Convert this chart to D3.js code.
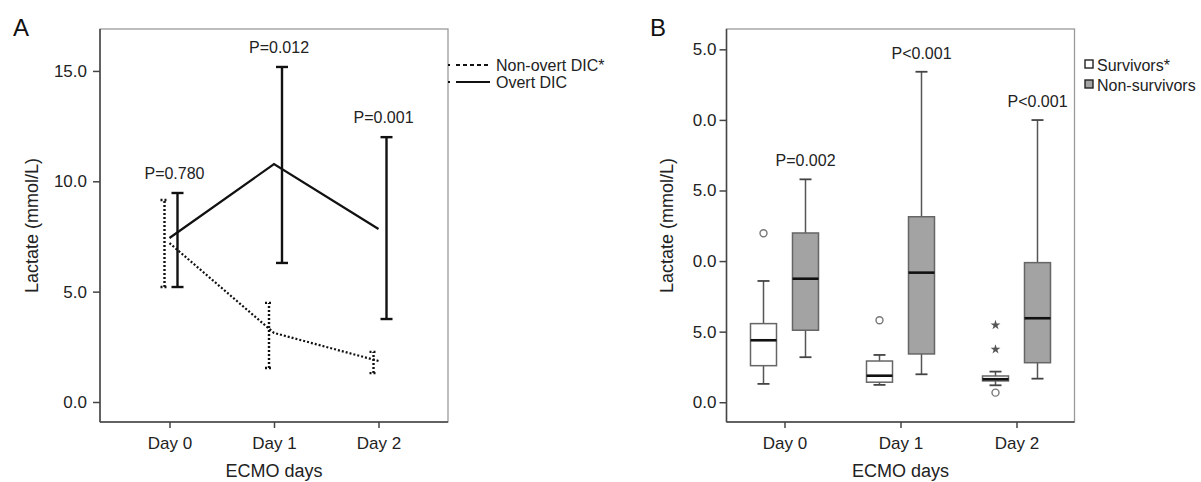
<!DOCTYPE html>
<html>
<head>
<meta charset="utf-8">
<script src="https://cdn.jsdelivr.net/npm/d3@7"></script>
<style>
body { margin: 0; background: #fff; }
svg { display: block; font-family: "Liberation Sans", Arial, sans-serif; }
</style>
</head>
<body>
<svg id="chart" width="1201" height="482"></svg>
<script>
var days = ["Day 0", "Day 1", "Day 2"];

// panel A: mean lactate with error bars, overt vs non-overt DIC
var overtMean = [7.43, 10.78, 7.84];
var overtLow = [5.21, 6.30, 3.76];
var overtHigh = [9.47, 15.18, 12.0];
var nonOvertMean = [7.2, 3.13, 1.86];
var nonOvertLow = [5.21, 1.54, 1.31];
var nonOvertHigh = [9.15, 4.49, 2.27];
var pLabelsA = ["P=0.780", "P=0.012", "P=0.001"];
var ticksA = [0, 5, 10, 15];

// panel B: boxplots, survivors vs non-survivors
var survMin = [1.30, 1.23, 1.20];
var survQ1 = [2.59, 1.42, 1.51];
var survMed = [4.39, 1.88, 1.63];
var survQ3 = [5.57, 2.92, 1.86];
var survMax = [8.59, 3.35, 2.17];
var nonSurvMin = [3.19, 1.98, 1.67];
var nonSurvQ1 = [5.10, 3.42, 2.80];
var nonSurvMed = [8.75, 9.18, 5.95];
var nonSurvQ3 = [11.99, 13.14, 9.89];
var nonSurvMax = [15.79, 23.41, 19.99];
var survOutlierDay = ["Day 0", "Day 1", "Day 2"];
var survOutlierVal = [11.97, 5.81, 0.68];
var survExtremeDay = ["Day 2", "Day 2"];
var survExtremeVal = [5.47, 3.75];
var pLabelsB = ["P=0.002", "P<0.001", "P<0.001"];
var ticksB = [0, 5, 10, 15, 20, 25];
var tickLabelsB = ["0.0", "5.0", "0.0", "5.0", "0.0", "5.0"];

var svg = d3.select("#chart");

//frame + axes shared by both panels
function drawFrame(left, right, plotTop, plotBottom)
{
    svg.append("rect")
        .attr("x", left).attr("y", plotTop)
        .attr("width", right - left).attr("height", plotBottom - plotTop)
        .attr("fill", "none").attr("stroke", "#9a9a9a").attr("stroke-width", 1.3);
    svg.append("line").attr("x1", left).attr("x2", left).attr("y1", plotTop).attr("y2", plotBottom)
        .attr("stroke", "#444").attr("stroke-width", 1.5);
    svg.append("line").attr("x1", left).attr("x2", right).attr("y1", plotBottom).attr("y2", plotBottom)
        .attr("stroke", "#444").attr("stroke-width", 1.5);
}

function styleAxis(g)
{
    g.select(".domain").remove();
    g.selectAll(".tick line").attr("stroke", "#444").attr("stroke-width", 1.5);
    g.selectAll(".tick text").attr("fill", "#222").style("font-size", "17px");
}

function axisTitles(cx, cy, yLabelX, titleX, letter)
{
    svg.append("text")
        .attr("transform", "translate(" + yLabelX + "," + cy + ") rotate(-90)")
        .attr("text-anchor", "middle").attr("dy", "0.35em")
        .style("font-size", "18px").attr("fill", "#222")
        .text("Lactate (mmol/L)");
    svg.append("text")
        .attr("x", cx).attr("y", 477)
        .attr("text-anchor", "middle")
        .style("font-size", "18px").attr("fill", "#222")
        .text("ECMO days");
    svg.append("text")
        .attr("x", titleX).attr("y", 36)
        .style("font-size", "24px").attr("fill", "#111")
        .text(letter);
}

// ---------------- panel A ----------------
var aLeft = 100, aRight = 448, plotTop = 29, plotBottom = 422;
var xA = d3.scalePoint().domain(days).range([aLeft, aRight]).padding(0.665);
var yA = d3.scaleLinear().domain([-0.906, 16.9]).range([plotBottom, plotTop]);

drawFrame(aLeft, aRight, plotTop, plotBottom);
svg.append("g").attr("transform", "translate(" + aLeft + ",0)")
    .call(d3.axisLeft(yA).tickValues(ticksA).tickFormat(d3.format(".1f")).tickSize(7).tickPadding(6))
    .call(styleAxis);
svg.append("g").attr("transform", "translate(0," + plotBottom + ")")
    .call(d3.axisBottom(xA).tickSize(6).tickPadding(9))
    .call(styleAxis);
axisTitles((aLeft + aRight) / 2, (plotTop + plotBottom) / 2, 32, 13, "A");

var lineA = d3.line().x(function(d, i) { return xA(days[i]); }).y(function(d) { return yA(d); });
svg.append("path").datum(overtMean).attr("d", lineA)
    .attr("fill", "none").attr("stroke", "#111").attr("stroke-width", 2.2);
svg.append("path").datum(nonOvertMean).attr("d", lineA)
    .attr("fill", "none").attr("stroke", "#111").attr("stroke-width", 2.2)
    .attr("stroke-dasharray", "2,2");

function errorBars(low, high, offset, capW, dash)
{
    var g = svg.append("g").attr("stroke", "#111").attr("stroke-width", 2.4).attr("fill", "none");
    days.forEach(function(d, i) {
        var cx = xA(d) + offset;
        var l = g.append("line").attr("x1", cx).attr("x2", cx).attr("y1", yA(low[i])).attr("y2", yA(high[i]));
        var c1 = g.append("line").attr("x1", cx - capW / 2).attr("x2", cx + capW / 2).attr("y1", yA(low[i])).attr("y2", yA(low[i]));
        var c2 = g.append("line").attr("x1", cx - capW / 2).attr("x2", cx + capW / 2).attr("y1", yA(high[i])).attr("y2", yA(high[i]));
        if(dash) { l.attr("stroke-dasharray", dash); c1.attr("stroke-dasharray", dash); c2.attr("stroke-dasharray", dash); }
    });
}
errorBars(nonOvertLow, nonOvertHigh, -5, 8, "2,2");
errorBars(overtLow, overtHigh, 8, 12, null);

svg.selectAll(".pA").data(pLabelsA).enter().append("text")
    .attr("x", function(d, i) { return xA(days[i]) + 5; })
    .attr("y", function(d, i) { return yA(Math.max(overtHigh[i], nonOvertHigh[i])) - 14; })
    .attr("text-anchor", "middle").style("font-size", "16px").attr("fill", "#222")
    .text(function(d) { return d; });

// legend A
var legA = [{label: "Non-overt DIC*", dash: "4,3", y: 65}, {label: "Overt DIC", dash: null, y: 82}];
legA.forEach(function(d) {
    var ln = svg.append("line").attr("x1", 456).attr("x2", 490).attr("y1", d.y).attr("y2", d.y)
        .attr("stroke", "#111").attr("stroke-width", 2.2);
    if(d.dash) ln.attr("stroke-dasharray", d.dash);
    svg.append("rect").attr("x", 448).attr("y", d.y - 1).attr("width", 2).attr("height", 2).attr("fill", "#111");
    svg.append("text").attr("x", 496).attr("y", d.y + 6)
        .style("font-size", "16px").attr("fill", "#222").text(d.label);
});

// ---------------- panel B ----------------
var bLeft = 726.5, bRight = 1074.5;
var xB = d3.scalePoint().domain(days).range([bLeft, bRight]).padding(0.5);
var groupX = d3.scaleBand().domain(["surv", "nonsurv"]).range([-42, 42]);
var yB = d3.scaleLinear().domain([-1.4, 26.44]).range([plotBottom, plotTop]);
var boxW = 26;

drawFrame(bLeft, bRight, plotTop, plotBottom);
svg.append("g").attr("transform", "translate(" + bLeft + ",0)")
    .call(d3.axisLeft(yB).tickValues(ticksB).tickFormat(function(d, i) { return tickLabelsB[i]; }).tickSize(7).tickPadding(3))
    .call(styleAxis);
svg.append("g").attr("transform", "translate(0," + plotBottom + ")")
    .call(d3.axisBottom(xB).tickSize(6).tickPadding(9))
    .call(styleAxis);
axisTitles((bLeft + bRight) / 2, (plotTop + plotBottom) / 2, 667, 650, "B");

function boxes(key, mins, q1, med, q3, maxs, fill)
{
    var g = svg.append("g");
    days.forEach(function(d, i) {
        var cx = xB(d) + groupX(key) + groupX.bandwidth() / 2;
        g.append("line").attr("x1", cx).attr("x2", cx).attr("y1", yB(maxs[i])).attr("y2", yB(q3[i]))
            .attr("stroke", "#555").attr("stroke-width", 1.5);
        g.append("line").attr("x1", cx).attr("x2", cx).attr("y1", yB(q1[i])).attr("y2", yB(mins[i]))
            .attr("stroke", "#555").attr("stroke-width", 1.5);
        [mins[i], maxs[i]].forEach(function(v) {
            g.append("line").attr("x1", cx - 6).attr("x2", cx + 6).attr("y1", yB(v)).attr("y2", yB(v))
                .attr("stroke", "#444").attr("stroke-width", 1.8);
        });
        g.append("rect").attr("x", cx - boxW / 2).attr("y", yB(q3[i]))
            .attr("width", boxW).attr("height", yB(q1[i]) - yB(q3[i]))
            .attr("fill", fill).attr("stroke", "#666").attr("stroke-width", 1.5);
        g.append("line").attr("x1", cx - boxW / 2).attr("x2", cx + boxW / 2).attr("y1", yB(med[i])).attr("y2", yB(med[i]))
            .attr("stroke", "#111").attr("stroke-width", 2.6);
    });
}
boxes("surv", survMin, survQ1, survMed, survQ3, survMax, "#fff");
boxes("nonsurv", nonSurvMin, nonSurvQ1, nonSurvMed, nonSurvQ3, nonSurvMax, "#a3a3a3");

var survCx = function(day) { return xB(day) + groupX("surv") + groupX.bandwidth() / 2; };
svg.selectAll(".outlier").data(survOutlierVal).enter().append("circle")
    .attr("cx", function(d, i) { return survCx(survOutlierDay[i]); })
    .attr("cy", function(d) { return yB(d); })
    .attr("r", 3.5).attr("fill", "#fff").attr("stroke", "#777").attr("stroke-width", 1.4);
svg.selectAll(".extreme").data(survExtremeVal).enter().append("path")
    .attr("d", d3.symbol().type(d3.symbolStar).size(30))
    .attr("transform", function(d, i) { return "translate(" + survCx(survExtremeDay[i]) + "," + yB(d) + ")"; })
    .attr("fill", "#555");

svg.selectAll(".pB").data(pLabelsB).enter().append("text")
    .attr("x", function(d, i) { return xB(days[i]) + groupX("nonsurv") + groupX.bandwidth() / 2; })
    .attr("y", function(d, i) { return yB(nonSurvMax[i]) - 13; })
    .attr("text-anchor", "middle").style("font-size", "16px").attr("fill", "#222")
    .text(function(d) { return d; });

// legend B
var legB = [{label: "Survivors*", fill: "#fff", y: 64}, {label: "Non-survivors", fill: "#a3a3a3", y: 84}];
legB.forEach(function(d) {
    svg.append("rect").attr("x", 1085).attr("y", d.y - 4).attr("width", 8).attr("height", 8)
        .attr("fill", d.fill).attr("stroke", "#222").attr("stroke-width", 1.4);
    svg.append("text").attr("x", 1097).attr("y", d.y + 7)
        .style("font-size", "16px").attr("fill", "#222").text(d.label);
});
</script>
</body>
</html>
